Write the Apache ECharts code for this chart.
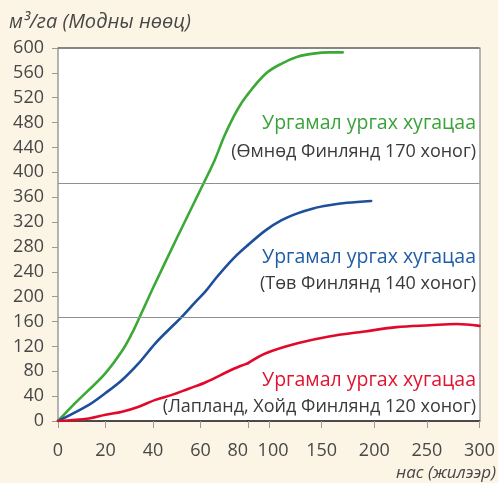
<!DOCTYPE html>
<html><head><meta charset="utf-8">
<script src="https://cdn.jsdelivr.net/npm/echarts@6/dist/echarts.min.js"></script>
<style>html,body{margin:0;padding:0;background:#fcf5e6}#c{width:498px;height:483px}</style>
</head><body><div id="c"></div>
<script>
// ---- data ----
const yAxisTitle = 'м³/га (Модны нөөц)';
const xAxisTitle = 'нас (жилээр)';
const xTicksLeft = [0, 20, 40, 60, 80];
const xTicksRight = [100, 150, 200, 250, 300];
const refLines = [383, 167];

const greenAges   = [0, 7, 13, 20, 27, 31, 34, 37, 40, 50, 61, 66, 70, 74, 77, 80, 97, 112, 127, 142, 157, 170];
const greenValues = [0, 28, 50, 77, 113, 140, 164, 189, 214, 294, 380, 420, 458, 490, 510, 526, 559, 575, 586, 591, 593, 593];

const blueAges    = [0, 13, 20, 27, 34, 41, 48, 52, 58, 62, 67, 74, 80, 97, 112, 127, 142, 157, 174, 197];
const blueValues  = [0, 26, 45, 66, 93, 125, 152, 167, 192, 208, 232, 262, 283, 307, 323, 334, 342, 347, 351, 354];

const redAges     = [0, 13, 20, 27, 34, 41, 48, 55, 62, 74, 80, 97, 127, 157, 191, 221, 253, 278, 300];
const redValues   = [0, 4, 10, 15, 23, 34, 42, 52, 62, 84, 93, 109, 125, 136, 144, 151, 154, 156, 153];

const labels = [
  {title: 'Ургамал ургах хугацаа', sub: '(Өмнөд Финлянд 170 хоног)'},
  {title: 'Ургамал ургах хугацаа', sub: '(Төв Финлянд 140 хоног)'},
  {title: 'Ургамал ургах хугацаа', sub: '(Лапланд, Хойд Финлянд 120 хоног)'}
];

// ---- chart ----
const FONT = '"Open Sans", sans-serif';
const TXT = '#474747';
const SPLIT = 80;
const curves = [
  {ages: greenAges, values: greenValues, color: '#3aa936', text: '#3ba23a'},
  {ages: blueAges, values: blueValues, color: '#1d4f9b', text: '#1f5ca8'},
  {ages: redAges, values: redValues, color: '#e2082a', text: '#e0142f'}
];
const zip = (a, v) => a.map((x, i) => [x, v[i]]);

const series = [];
[0, 1].forEach(g => {
  series.push({
    type: 'line', xAxisIndex: g, yAxisIndex: g, data: [], silent: true,
    markLine: {
      silent: true, symbol: 'none', label: {show: false},
      data: [
        ...refLines.map(v => ({yAxis: v, lineStyle: {color: '#909090', width: 1.2, type: 'solid'}})),
        {yAxis: 600, lineStyle: {color: '#5e5e5e', width: 1.6, type: 'solid'}}
      ]
    }
  });
  curves.forEach(c => {
    const pts = zip(c.ages, c.values).filter(p => g === 0 ? p[0] <= SPLIT : p[0] >= SPLIT);
    series.push({
      type: 'line', xAxisIndex: g, yAxisIndex: g, data: pts,
      smooth: 0.35, showSymbol: false, clip: true, silent: true,
      lineStyle: {color: c.color, width: 2.6, cap: 'round', join: 'round'}
    });
  });
});

const ySpec = {
  type: 'value', min: 0, max: 600, interval: 40,
  splitLine: {show: false}
};
const titleY = [123, 257, 380];
const subY = [152, 284, 407];
const graphic = [];
labels.forEach((l, i) => {
  graphic.push({type: 'text', x: 476, y: titleY[i], style: {text: l.title, fill: curves[i].text, font: '19.5px ' + FONT, textAlign: 'right', textVerticalAlign: 'middle'}});
  graphic.push({type: 'text', x: 476, y: subY[i], style: {text: l.sub, fill: '#3a3a3a', font: '18px ' + FONT, textAlign: 'right', textVerticalAlign: 'middle'}});
});
graphic.push({type: 'text', x: 496, y: 473, style: {text: xAxisTitle, fill: TXT, font: 'italic 17px ' + FONT, textAlign: 'right', textVerticalAlign: 'middle'}});
graphic.push({type: 'text', x: 9, y: 22, style: {text: yAxisTitle, fill: TXT, font: 'italic 20px ' + FONT, textAlign: 'left', textVerticalAlign: 'middle'}});

const chart = echarts.init(document.getElementById('c'), null, {renderer: 'canvas'});
chart.setOption({
  backgroundColor: '#fcf5e6',
  animation: false,
  grid: [
    {left: 58, top: 48, width: 190, height: 373, show: true, backgroundColor: '#ffffff', borderWidth: 0},
    {left: 248, top: 48, width: 235, height: 373, show: true, backgroundColor: '#ffffff', borderWidth: 0}
  ],
  xAxis: [
    {type: 'value', gridIndex: 0, min: 0, max: 80, interval: 20,
      axisLine: {lineStyle: {color: '#111', width: 1.5}},
      axisTick: {length: 7, lineStyle: {color: '#999'}},
      axisLabel: {color: TXT, fontSize: 18, fontFamily: FONT, margin: 21, showMaxLabel: true,
        alignMaxLabel: 'right', customValues: xTicksLeft},
      splitLine: {show: false}},
    {type: 'value', gridIndex: 1, min: 80, max: 300,
      axisLine: {lineStyle: {color: '#111', width: 1.5}},
      axisTick: {length: 7, lineStyle: {color: '#999'}, customValues: xTicksRight},
      axisLabel: {color: TXT, fontSize: 18, fontFamily: FONT, margin: 21, customValues: xTicksRight,
        formatter: v => v === 100 ? '{p|' + v + '}' : String(v),
        rich: {p: {color: TXT, fontSize: 18, fontFamily: FONT, padding: [0, 0, 0, 8]}}},
      splitLine: {show: false}}
  ],
  yAxis: [
    Object.assign({}, ySpec, {gridIndex: 0, position: 'left',
      axisLine: {show: true, lineStyle: {color: '#9a9a9a', width: 1.5}},
      axisTick: {show: true, length: 6, lineStyle: {color: '#9a9a9a'}},
      axisLabel: {color: TXT, fontSize: 18, fontFamily: FONT, margin: 14}}),
    Object.assign({}, ySpec, {gridIndex: 1, position: 'right',
      axisLine: {show: true, lineStyle: {color: '#a0a0a0', width: 1.5}},
      axisTick: {show: false}, axisLabel: {show: false}})
  ],
  series: series,
  graphic: graphic
});
</script>
</body></html>
